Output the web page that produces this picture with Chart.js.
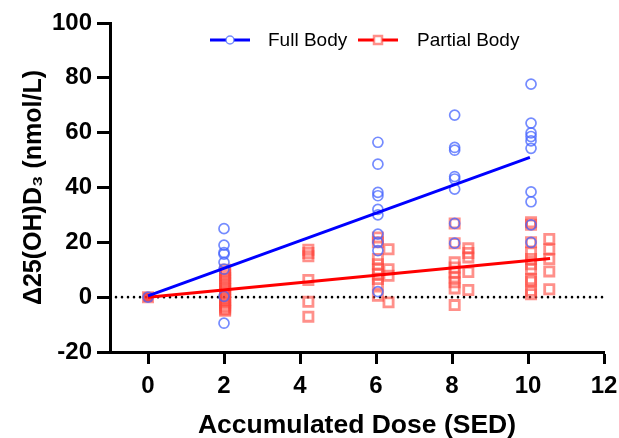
<!DOCTYPE html>
<html>
<head>
<meta charset="utf-8">
<script src="https://cdn.jsdelivr.net/npm/chart.js@4.4.1/dist/chart.umd.min.js"></script>
<style>
  html, body { margin: 0; padding: 0; background: #fff; }
  #wrap { width: 619px; height: 438px; position: relative; }
</style>
</head>
<body>
<div id="wrap"><canvas id="c" width="619" height="438"></canvas></div>
<script>
// ---- Data ----
const fullBodyDose  = [0, 2, 2, 2, 2, 2, 2, 2, 2,
  6.05, 6.05, 6.05, 6.05, 6.05, 6.05, 6.05, 6.05, 6.05, 6.05,
  8.07, 8.07, 8.07, 8.07, 8.07, 8.07, 8.07, 8.07,
  10.08, 10.08, 10.08, 10.08, 10.08, 10.08, 10.08, 10.08, 10.08, 10.08];
const fullBodyDelta = [0, 25, 19, 16.3, 15.7, 12.7, 10.2, 0.3, -9.5,
  56.5, 48.5, 38.2, 37, 32, 30, 23, 20, 17, 2,
  66.4, 54.6, 53.6, 44, 43.1, 39.4, 26.9, 19.7,
  77.7, 63.5, 59.9, 58.6, 57, 54.3, 38.4, 34.8, 26.4, 20];

const partialBodyDose  = [0,
  2.03, 2.03, 2.03, 2.03, 2.03, 2.03, 2.03, 2.03, 2.03, 2.03, 2.03, 2.03, 2.03, 2.03, 2.03, 2.03, 2.03,
  4.22, 4.22, 4.22, 4.22, 4.22, 4.22,
  6.05, 6.05, 6.05, 6.05, 6.05, 6.05, 6.05, 6.05, 6.05,
  6.33, 6.33, 6.33, 6.33,
  8.07, 8.07, 8.07, 8.07, 8.07, 8.07, 8.07, 8.07, 8.07,
  8.43, 8.43, 8.43, 8.43, 8.43,
  10.08, 10.08, 10.08, 10.08, 10.08, 10.08, 10.08, 10.08, 10.08, 10.08, 10.08,
  10.56, 10.56, 10.56, 10.56, 10.56];
const partialBodyDelta = [0,
  10, 9, 8, 7, 6, 5, 4, 3, 2, 1, 0, -1, -2, -3, -3.8, -4.5, -5,
  17.3, 16.1, 14.9, 6.3, -1.7, -7.1,
  21.8, 20, 13.9, 12, 10.2, 8.4, 6.6, 4.7, 0.5,
  17.5, 10.2, 7.8, -1.9,
  26.9, 19.7, 12.7, 10.8, 9, 7.2, 5.4, 3.2, -2.9,
  17.8, 16.1, 14.5, 9.2, 2.6,
  27.3, 26.4, 20, 16.3, 13.9, 12, 10.2, 6.6, 5.6, 2.3, 1.1,
  21.2, 17.5, 13.9, 9.4, 2.9];

const fullFitDose = [0, 10.05];
const fullFitDelta = [0.5, 51];
const partialFitDose = [0, 10.58];
const partialFitDelta = [0, 14.1];
const zeroLineDose = [-1, 12];
const zeroLineDelta = [0, 0];

const xTicks = [0, 2, 4, 6, 8, 10, 12];
const yTicks = [-20, 0, 20, 40, 60, 80, 100];
const seriesLabels = ['Full Body', 'Partial Body'];

const pts = (xs, ys) => xs.map((x, i) => ({ x: x, y: ys[i] }));

const BLUE_PT = 'rgba(70,100,255,0.75)';
const RED_PT = 'rgba(255,70,60,0.6)';
const FONT = '"Liberation Sans", Arial, sans-serif';

// custom legend drawn inside chart (line + marker + text)
const legendPlugin = {
  id: 'innerLegend',
  afterDraw(chart) {
    const ctx = chart.ctx;
    const y = 40;
    const items = [
      { x0: 210, x1: 250, mx: 230, color: '#0000ff', label: seriesLabels[0], tx: 268, kind: 'circle' },
      { x0: 358, x1: 398, mx: 378, color: '#ff0000', label: seriesLabels[1], tx: 417, kind: 'rect' }
    ];
    ctx.save();
    items.forEach(it => {
      ctx.strokeStyle = it.color;
      ctx.lineWidth = 3;
      ctx.beginPath();
      ctx.moveTo(it.x0, y);
      ctx.lineTo(it.x1, y);
      ctx.stroke();
      if (it.kind === 'circle') {
        ctx.fillStyle = '#fff';
        ctx.strokeStyle = BLUE_PT;
        ctx.lineWidth = 1.5;
        ctx.beginPath();
        ctx.arc(it.mx, y, 4, 0, Math.PI * 2);
        ctx.fill();
        ctx.stroke();
      } else {
        ctx.fillStyle = '#fff';
        ctx.fillRect(it.mx - 4, y - 4, 8, 8);
        ctx.strokeStyle = RED_PT;
        ctx.lineWidth = 2.5;
        ctx.strokeRect(it.mx - 4, y - 4, 8, 8);
      }
      ctx.fillStyle = '#000';
      ctx.font = '19px ' + FONT;
      ctx.textBaseline = 'middle';
      ctx.textAlign = 'left';
      ctx.fillText(it.label, it.tx, y + 1);
    });
    ctx.restore();
  }
};

new Chart(document.getElementById('c'), {
  type: 'scatter',
  data: {
    datasets: [
      {
        label: seriesLabels[1],
        data: pts(partialBodyDose, partialBodyDelta),
        pointStyle: 'rect',
        pointRadius: 6.5,
        pointBorderWidth: 2.8,
        pointBorderColor: RED_PT,
        pointBackgroundColor: c => (c.raw && c.raw.x === 0 ? 'rgba(255,40,40,0.85)' : 'rgba(0,0,0,0)'),
        showLine: false,
        order: 5
      },
      {
        label: seriesLabels[0],
        data: pts(fullBodyDose, fullBodyDelta),
        pointStyle: 'circle',
        pointRadius: 5,
        pointBorderWidth: 1.7,
        pointBorderColor: BLUE_PT,
        pointBackgroundColor: 'rgba(0,0,0,0)',
        showLine: false,
        order: 4
      },
      {
        label: 'zero',
        data: pts(zeroLineDose, zeroLineDelta),
        showLine: true,
        borderColor: '#000',
        borderWidth: 2.6,
        borderDash: [0, 6],
        borderCapStyle: 'round',
        pointRadius: 0,
        order: 6
      },
      {
        label: 'partialFit',
        data: pts(partialFitDose, partialFitDelta),
        showLine: true,
        borderColor: '#ff0000',
        borderWidth: 3,
        pointRadius: 0,
        order: 3
      },
      {
        label: 'fullFit',
        data: pts(fullFitDose, fullFitDelta),
        showLine: true,
        borderColor: '#0000ff',
        borderWidth: 3,
        pointRadius: 0,
        order: 2
      }
    ]
  },
  options: {
    responsive: false,
    animation: false,
    layout: { padding: { top: 23, right: 15, left: 0, bottom: 0 } },
    plugins: { legend: { display: false }, tooltip: { enabled: false } },
    scales: {
      x: {
        type: 'linear',
        min: -1,
        max: 12,
        afterBuildTicks: s => { s.ticks = xTicks.map(v => ({ value: v })); },
        afterFit: s => { s.height = 86; s.paddingRight = 0; s.paddingLeft = 0; },
        grid: { display: true, drawOnChartArea: false, drawTicks: true, tickLength: 12, tickWidth: 3, tickColor: '#000' },
        border: { display: true, color: '#000', width: 3 },
        ticks: { color: '#000', padding: 8, font: { family: FONT, size: 24, weight: 'bold' } },
        title: { display: true, text: 'Accumulated Dose (SED)', color: '#000', padding: { top: 0, bottom: -4 },
          font: { family: FONT, size: 26.5, weight: 'bold' } }
      },
      y: {
        type: 'linear',
        min: -20,
        max: 100,
        afterBuildTicks: s => { s.ticks = yTicks.map(v => ({ value: v })); },
        afterFit: s => { s.width = 110; s.paddingTop = 0; s.paddingBottom = 0; },
        grid: { display: true, drawOnChartArea: false, drawTicks: true, tickLength: 13, tickWidth: 3, tickColor: '#000' },
        border: { display: true, color: '#000', width: 3 },
        ticks: { color: '#000', padding: 5, font: { family: FONT, size: 24, weight: 'bold' } },
        title: { display: true, text: 'Δ25(OH)D₃ (nmol/L)', color: '#000', padding: { top: 19, bottom: 0 },
          font: { family: FONT, size: 25, weight: 'bold' } }
      }
    }
  },
  plugins: [legendPlugin]
});
</script>
</body>
</html>
